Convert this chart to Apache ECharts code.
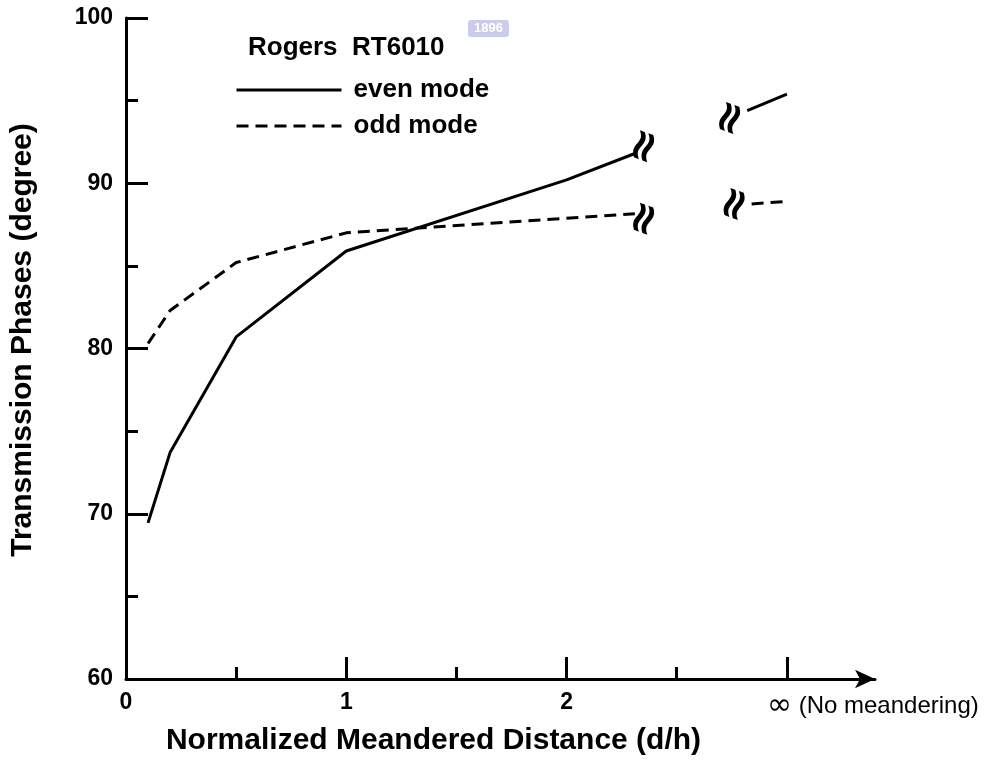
<!DOCTYPE html>
<html lang="en">
<head>
    <meta charset="UTF-8">
    <title>Transmission Phases</title>
    <script src="https://cdn.jsdelivr.net/npm/echarts@6/dist/echarts.min.js"></script>
    <style>
        html, body { margin: 0; padding: 0; background: #fff; }
        #main { width: 993px; height: 762px; }
    </style>
</head>
<body>
<div id="main"></div>

<script>
    // x = normalized meandered distance d/h, 3 stands for "infinity" (no meandering)
    const evenNear = [[0.1, 69.45], [0.2, 73.7], [0.5, 80.7], [1, 85.9], [2, 90.2], [2.31, 91.8]];
    const evenFar = [[2.82, 94.4], [3.0, 95.4]];
    const oddNear = [[0.1, 80.3], [0.2, 82.3], [0.5, 85.2], [1, 87.0], [2.31, 88.15]];
    const oddFar = [[2.84, 88.75], [3.0, 88.9]];

    // where the axis break marks sit
    const evenBreaks = [[2.36, 92.2], [2.75, 93.9]];
    const oddBreaks = [[2.36, 87.8], [2.77, 88.7]];

    const xMajorTicks = [0, 1, 2, 3];
    const xMinorTicks = [0.5, 1.5, 2.5];
    const xLabels = {0: '0', 1: '1', 2: '2', 3: ' (No meandering)'};

    const font = 'Arial, "Liberation Sans", sans-serif';

    function breakMarks(points) {
        return {
            symbol: 'circle',
            symbolSize: 0,
            silent: true,
            label: {
                show: true,
                position: 'inside',
                formatter: '≈',
                rotate: 70,
                fontSize: 44,
                fontWeight: 'bold',
                fontFamily: 'DejaVu Sans',
                color: '#000'
            },
            data: points.map(p => ({coord: p}))
        };
    }

    function lineSeries(name, data, type, marks) {
        return {
            name: name,
            type: 'line',
            data: data,
            symbol: 'none',
            lineStyle: {color: '#000', width: 3, type: type},
            itemStyle: {color: '#000'},
            markPoint: marks ? breakMarks(marks) : undefined
        };
    }

    const option = {
        animation: false,
        backgroundColor: '#fff',
        graphic: [
            {
                // faint "1896" watermark at the top
                type: 'text',
                left: 468,
                top: 20,
                silent: true,
                style: {
                    text: '1896',
                    fill: '#fff',
                    backgroundColor: '#c9cdea',
                    padding: [2, 6],
                    borderRadius: 3,
                    font: 'bold 13px Arial, "Liberation Sans", sans-serif'
                }
            }
        ],
        title: {
            text: 'Rogers  RT6010',
            left: 248,
            top: 35,
            padding: 0,
            textStyle: {fontFamily: font, fontSize: 26, fontWeight: 'bold', color: '#000'}
        },
        legend: {
            orient: 'vertical',
            left: 235,
            top: 77,
            padding: 0,
            itemWidth: 105,
            itemHeight: 14,
            itemGap: 10,
            itemStyle: {opacity: 0},
            lineStyle: {width: 3, color: '#000'},
            data: ['even mode', 'odd mode'],
            textStyle: {fontFamily: font, fontSize: 26, fontWeight: 'bold', color: '#000', padding: [0, 0, 0, 7]}
        },
        grid: {left: 125, right: 118, top: 18, bottom: 83},
        xAxis: [
            {
                type: 'value',
                min: 0,
                max: 3.4,
                interval: 1,
                name: 'Normalized Meandered Distance (d/h)',
                nameLocation: 'middle',
                nameGap: 47,
                nameTextStyle: {fontFamily: font, fontSize: 30, fontWeight: 'bold', color: '#000', padding: [0, 134, 0, 0]},
                splitLine: {show: false},
                axisLine: {
                    lineStyle: {color: '#000', width: 3},
                    symbol: ['none', 'arrow'],
                    symbolSize: [14, 20]
                },
                axisTick: {inside: true, length: 22, lineStyle: {color: '#000', width: 3}, customValues: xMajorTicks},
                axisLabel: {
                    customValues: xMajorTicks,
                    margin: 12,
                    fontFamily: font,
                    fontSize: 23,
                    fontWeight: 'bold',
                    color: '#000',
                    formatter: v => v === 3 ? '{sym|∞}{inf|' + xLabels[3] + '}' : xLabels[v],
                    rich: {
                        sym: {fontFamily: 'DejaVu Sans', fontSize: 30, fontWeight: 'normal', color: '#000', padding: [0, 0, 0, 172]},
                        inf: {fontFamily: font, fontSize: 24, fontWeight: 'normal', color: '#000'}
                    }
                }
            },
            {
                // second copy of the x axis only for the short half-unit ticks
                type: 'value',
                min: 0,
                max: 3.4,
                position: 'bottom',
                splitLine: {show: false},
                axisLine: {show: false},
                axisLabel: {show: false},
                axisTick: {inside: true, length: 12, lineStyle: {color: '#000', width: 3}, customValues: xMinorTicks}
            }
        ],
        yAxis: {
            type: 'value',
            min: 60,
            max: 100,
            interval: 10,
            name: 'Transmission Phases (degree)',
            nameLocation: 'middle',
            nameGap: 88,
            nameRotate: 90,
            nameTextStyle: {fontFamily: font, fontSize: 30, fontWeight: 'bold', color: '#000', padding: [0, 0, 0, 17]},
            splitLine: {show: false},
            axisLine: {show: true, lineStyle: {color: '#000', width: 3}},
            axisTick: {show: true, inside: true, length: 22, lineStyle: {color: '#000', width: 3}},
            minorTick: {show: true, splitNumber: 2, length: 12, lineStyle: {color: '#000', width: 3}},
            axisLabel: {margin: 13, fontFamily: font, fontSize: 23, fontWeight: 'bold', color: '#000'}
        },
        series: [
            lineSeries('even mode', evenNear, 'solid', evenBreaks),
            lineSeries('even mode', evenFar, 'solid'),
            lineSeries('odd mode', oddNear, [12, 7], oddBreaks),
            lineSeries('odd mode', oddFar, [12, 7])
        ]
    };

    let myChart = echarts.init(document.getElementById('main'));
    myChart.setOption(option);
</script>
</body>
</html>
